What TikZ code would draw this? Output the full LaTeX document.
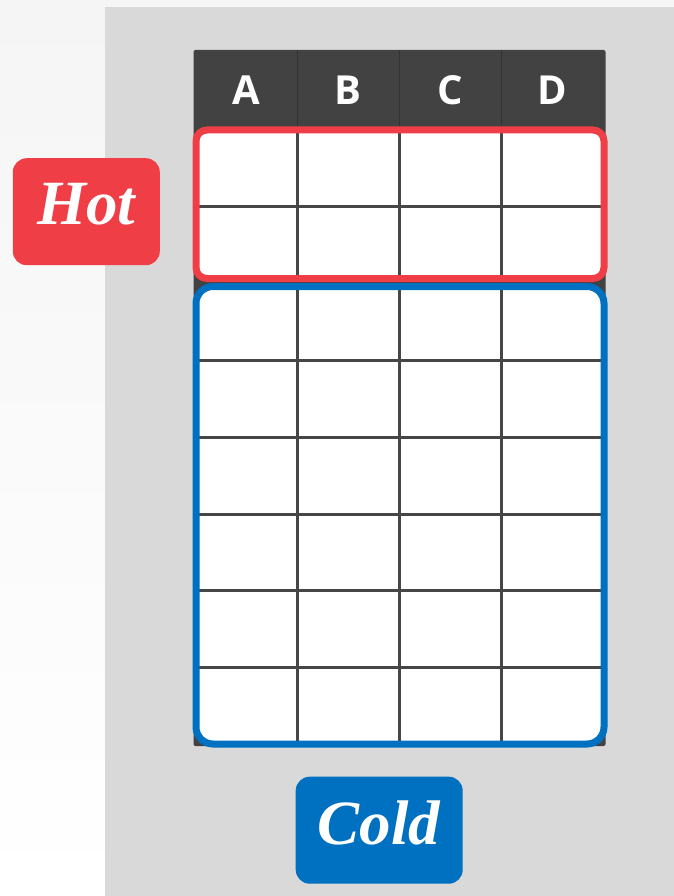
\documentclass[tikz,border=0pt]{standalone}
\usepackage{fontspec}
\usepackage{tikz}
\usetikzlibrary{positioning}
\newfontfamily\tagfont{Liberation Serif}
\newfontfamily\headfont{Open Sans}
\definecolor{hotRed}{HTML}{EF3E45}
\definecolor{coldBlue}{HTML}{0070C0}
\definecolor{headDark}{HTML}{424242}
\definecolor{gridDark}{HTML}{464644}
\definecolor{panelGray}{HTML}{D9D9D9}
\definecolor{pageLight}{HTML}{F5F5F5}

\begin{document}
\begin{tikzpicture}[x=1pt, y=-1pt,
    tagbox/.style={rounded corners=14pt, text=white, inner sep=0pt,
      font=\tagfont\bfseries\itshape\fontsize{63}{63}\selectfont,
      minimum height=107pt, text depth=15pt},
    colhead/.style={text=white, font=\headfont\bfseries\fontsize{40}{40}\selectfont},
    gridline/.style={gridDark, line width=3pt},
    band/.style={line width=7pt}]
  \useasboundingbox (0,0) rectangle (674,896);
  \shade[top color=pageLight, bottom color=white] (0,0) rectangle (674,896);
  \fill[panelGray] (105,7) rectangle (674,896);

  % the table
  \fill[headDark, rounded corners=2pt] (193.5,50) rectangle (605.5,746);
  \draw[black!80, line width=1pt] (297,50) -- (297,128) (399,50) -- (399,128) (501,50) -- (501,128);
  \fill[white, rounded corners=11pt] (196,130) rectangle (604,278.5);
  \fill[white, rounded corners=17pt] (196,286.5) rectangle (604,744);
  \node[colhead] (colA) at (246,90.5) {A};
  \node[colhead] (colB) at (348,90.5) {B};
  \node[colhead] (colC) at (450,90.5) {C};
  \node[colhead] (colD) at (552,90.5) {D};
  \draw[gridline] (297,128) -- (297,746) (399,128) -- (399,746) (501,128) -- (501,746);
  \draw[gridline] (193,206) -- (606,206);
  \draw[gridline] (193,360) -- (606,360) (193,437) -- (606,437) (193,514) -- (606,514);
  \draw[gridline] (193,590) -- (606,590) (193,667) -- (606,667);

  % hot and cold rows
  \draw[band, hotRed, rounded corners=11pt] (196,130) rectangle (604,278.5);
  \draw[band, coldBlue, rounded corners=17pt] (196,286.5) rectangle (604,744);
  \node[tagbox, fill=hotRed, minimum width=147pt] (hot) at (86.3,211.7) {Hot};
  \node[tagbox, fill=coldBlue, minimum width=167pt] (cold) at (379.2,830.2) {Cold};
\end{tikzpicture}
\end{document}
